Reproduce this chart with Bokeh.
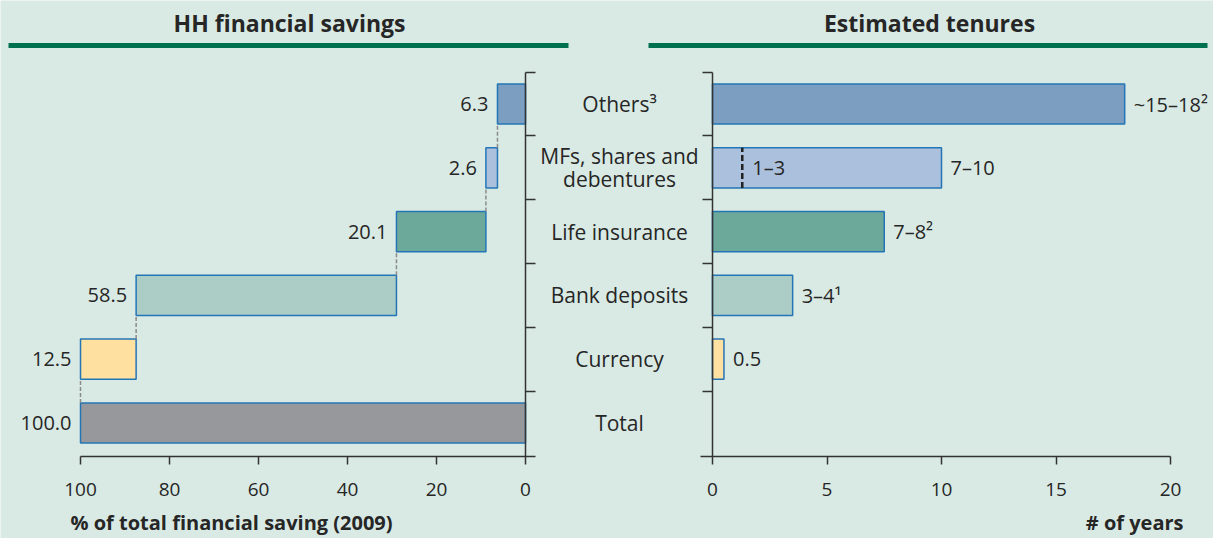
import numpy as np
from bokeh.plotting import figure
from bokeh.models import Range1d, LinearAxis, FixedTicker, ColumnDataSource
from bokeh.core.properties import value
from bokeh.embed import file_html
from bokeh.resources import INLINE

# ---------------- data ----------------
categories = ["Total", "Currency", "Bank deposits", "Life insurance",
              "MFs, shares and\ndebentures", "Others³"]
savings_share = [100.0, 12.5, 58.5, 20.1, 2.6, 6.3]
savings_labels = ["100.0", "12.5", "58.5", "20.1", "2.6", "6.3"]
tenure_years = [np.nan, 0.5, 3.5, 7.5, 10.0, 18.0]
tenure_labels = ["", "0.5", "3–4¹", "7–8²", "7–10", "~15–18²"]
mf_split_years = 1.3
mf_split_label = "1–3"
fill_colors = ["#97989b", "#fee0a0", "#abcdc6", "#6ca99a", "#abc0dc", "#7c9ec1"]
left_ticks = [100, 80, 60, 40, 20, 0]
right_ticks = [0, 5, 10, 15, 20]
title_left = "HH financial savings"
title_right = "Estimated tenures"
xlabel_left = "% of total financial saving (2009)"
xlabel_right = "# of years"

# ---------------- style / layout ----------------
BG = "#d9eae4"
EDGE = "#2475b5"
TXT = "#262626"
AXC = "#333333"
GREEN = "#00704f"
FONT = "Open Sans"
W, H = 1213, 538
L_X100, L_X0 = 80.0, 525.0      # screen px of 100 and 0 on left scale
R_X0, R_X20 = 712.0, 1170.0     # screen px of 0 and 20 on right scale
ROW_TOP_PX, ROW_BOT_PX = 103.5, 422.5
BAR_H = 0.63

n = len(categories)
rows = np.arange(n, dtype=float)

kl = (L_X0 - L_X100) / 100.0
kr = (R_X20 - R_X0) / 20.0
ky = (ROW_BOT_PX - ROW_TOP_PX) / (n - 1)

def lx(px):  # screen px -> left-scale value
    return 100.0 - (px - L_X100) / kl

def rx(px):  # screen px -> right-scale value
    return (px - R_X0) / kr

def yy(py):  # screen px (from top) -> row value
    return (n - 1) - (py - ROW_TOP_PX) / ky

# waterfall extents
share = np.array(savings_share)
hi = np.empty(n); lo = np.empty(n)
hi[0], lo[0] = share[0], 0.0
running = share[0]
for i in range(1, n):
    hi[i] = running
    lo[i] = running - share[i]
    running = lo[i]

p = figure(width=W, height=H,
           x_range=Range1d(rx(0), rx(W)), y_range=Range1d(yy(H), yy(0)),
           x_axis_type=None, y_axis_type=None,
           output_backend="svg", toolbar_location=None,
           min_border=0, min_border_left=0, min_border_right=0,
           min_border_top=0, min_border_bottom=0,
           background_fill_color=BG, border_fill_color=BG,
           outline_line_color=None)
p.extra_x_ranges = {"left": Range1d(lx(0), lx(W))}
p.grid.visible = False

src_l = ColumnDataSource(dict(row=rows, lo=lo, hi=hi, lab=savings_labels, color=fill_colors))
src_r = ColumnDataSource(dict(row=rows, val=np.array(tenure_years, dtype=float),
                              lab=tenure_labels, color=fill_colors))

NUM_FS = "20px"
TICK_FS = "19px"
CAT_FS = "21px"

# left waterfall bars
p.hbar(y="row", left="lo", right="hi", height=BAR_H, fill_color="color",
       line_color=EDGE, line_width=1.5, x_range_name="left", source=src_l)
p.text(x="hi", y="row", text="lab", x_range_name="left", source=src_l,
       text_align="right", text_baseline="middle", x_offset=-9,
       text_font=value(FONT), text_font_size=NUM_FS, text_color=TXT)
# connectors
p.segment(x0=hi[1:], y0=rows[:-1] + BAR_H / 2, x1=hi[1:], y1=rows[1:] - BAR_H / 2,
          x_range_name="left", line_dash="4 2", line_color="#8a8a8a", line_width=1.5)

# right bars
p.hbar(y="row", left=0, right="val", height=BAR_H, fill_color="color",
       line_color=EDGE, line_width=1.5, source=src_r)
p.text(x="val", y="row", text="lab", source=src_r,
       text_align="left", text_baseline="middle", x_offset=9,
       text_font=value(FONT), text_font_size=NUM_FS, text_color=TXT)
mf_row = float(categories.index("MFs, shares and\ndebentures"))
p.segment(x0=[mf_split_years], y0=[mf_row - BAR_H / 2], x1=[mf_split_years],
          y1=[mf_row + BAR_H / 2], line_dash="6 3", line_color="#222222", line_width=2.5)
p.text(x=[mf_split_years], y=[mf_row], text=[mf_split_label], x_offset=10,
       text_align="left", text_baseline="middle",
       text_font=value(FONT), text_font_size=NUM_FS, text_color=TXT)

# category labels (between panels)
mid_x = rx((L_X0 + R_X0) / 2 + 0.5)
p.text(x=[mid_x] * n, y=rows, text=categories, text_align="center",
       text_baseline="middle", text_line_height=0.83,
       text_font=value(FONT), text_font_size=CAT_FS, text_color=TXT)

# titles with green rules
TITLE_Y = yy(22)
RULE_Y = yy(45)
p.text(x=[lx(289)], y=[TITLE_Y], text=[title_left], x_range_name="left",
       text_align="center", text_baseline="middle",
       text_font=value(FONT), text_font_size="23px", text_font_style="bold", text_color=TXT)
p.text(x=[rx(929)], y=[TITLE_Y], text=[title_right],
       text_align="center", text_baseline="middle",
       text_font=value(FONT), text_font_size="23px", text_font_style="bold", text_color=TXT)
p.segment(x0=[lx(8)], y0=[RULE_Y], x1=[lx(568)], y1=[RULE_Y], x_range_name="left",
          line_color=GREEN, line_width=5, line_cap="butt")
p.segment(x0=[rx(648)], y0=[RULE_Y], x1=[rx(1207)], y1=[RULE_Y],
          line_color=GREEN, line_width=5, line_cap="butt")

# axis titles
LBL_Y = yy(522)
p.text(x=[lx(70)], y=[LBL_Y], text=[xlabel_left], x_range_name="left",
       text_align="left", text_baseline="middle",
       text_font=value(FONT), text_font_size="20px", text_font_style="bold", text_color=TXT)
p.text(x=[rx(1183)], y=[LBL_Y], text=[xlabel_right],
       text_align="right", text_baseline="middle",
       text_font=value(FONT), text_font_size="20px", text_font_style="bold", text_color=TXT)

# axes
row_bounds = [float(b) for b in np.arange(0.5, n, 1.0)]   # category dividers

def style(ax, labels=True):
    ax.axis_line_color = AXC
    ax.axis_line_width = 1.5
    ax.major_tick_line_color = AXC
    ax.major_tick_line_width = 1.5
    ax.minor_tick_line_color = None
    ax.major_tick_in = 0
    if labels:
        ax.major_label_text_font = FONT
        ax.major_label_text_font_size = TICK_FS
        ax.major_label_text_color = TXT
    else:
        ax.major_label_text_color = None
        ax.major_label_text_font_size = "0px"

AX_Y = yy(456)
ax_lb = LinearAxis(x_range_name="left", fixed_location=AX_Y, bounds=(lx(L_X0 + 10), 100),
                   ticker=FixedTicker(ticks=left_ticks))
style(ax_lb)
ax_lb.major_tick_out = 8
ax_lb.major_label_standoff = 18
p.add_layout(ax_lb, "below")

ax_rb = LinearAxis(fixed_location=AX_Y, bounds=(rx(R_X0 - 12), 20),
                   ticker=FixedTicker(ticks=right_ticks))
style(ax_rb)
ax_rb.major_tick_out = 8
ax_rb.major_label_standoff = 18
p.add_layout(ax_rb, "below")

ax_ly = LinearAxis(x_range_name="left", fixed_location=0, bounds=(AX_Y, n - 0.5),
                   ticker=FixedTicker(ticks=row_bounds))
style(ax_ly, labels=False)
ax_ly.major_tick_out = 10
p.add_layout(ax_ly, "right")

ax_ry = LinearAxis(fixed_location=0, bounds=(AX_Y, n - 0.5),
                   ticker=FixedTicker(ticks=row_bounds))
style(ax_ry, labels=False)
ax_ry.major_tick_out = 10
p.add_layout(ax_ry, "left")

open("out.html", "w").write(file_html(p, INLINE))
